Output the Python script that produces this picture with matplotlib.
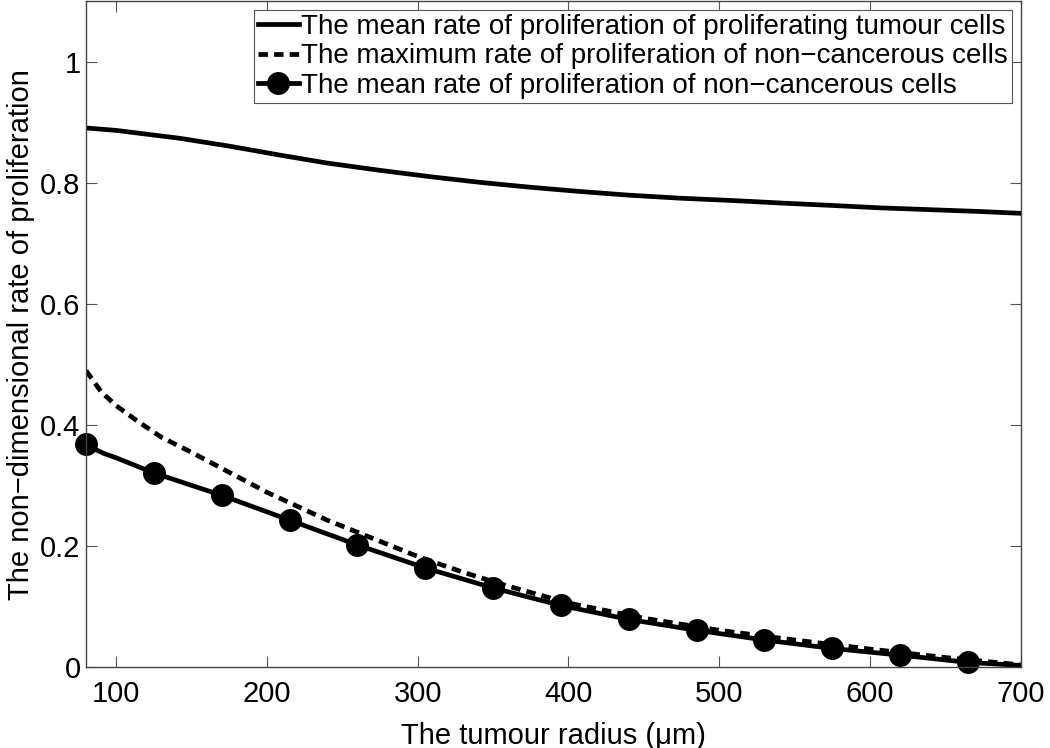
import numpy as np
import matplotlib.pyplot as plt
from matplotlib.lines import Line2D

plt.rcParams['font.family'] = ['Liberation Sans', 'DejaVu Sans']

# mean rate, proliferating tumour cells
tumour_r = [80, 100, 142, 175, 209, 240, 275, 310, 342, 375, 408, 440, 474, 510, 541, 575, 607, 640, 673, 700]
tumour_mean = [0.891, 0.887, 0.874, 0.861, 0.846, 0.833, 0.821, 0.810, 0.801, 0.793, 0.786, 0.780,
               0.775, 0.771, 0.767, 0.763, 0.759, 0.756, 0.753, 0.750]

# maximum rate, non-cancerous cells
max_r = [80, 90, 100, 115, 130, 150, 175, 200, 240, 270, 300, 330, 360, 400, 450, 500, 550, 600, 650, 700]
max_rate = [0.490, 0.455, 0.432, 0.405, 0.380, 0.355, 0.322, 0.289, 0.243, 0.213, 0.183, 0.157, 0.134,
            0.106, 0.081, 0.061, 0.045, 0.030, 0.016, 0.004]

# mean rate, non-cancerous cells (curve)
mean_r = [80, 86, 92, 100, 110, 125, 170, 215, 260, 305, 350, 395, 440, 485, 530, 575, 620, 665, 700]
mean_rate = [0.369, 0.360, 0.353, 0.346, 0.336, 0.321, 0.284, 0.243, 0.202, 0.164, 0.131, 0.102, 0.079,
             0.061, 0.045, 0.031, 0.020, 0.008, 0.003]

# marker positions on that curve
marker_r = [80, 125, 170, 215, 260, 305, 350, 395, 440, 485, 530, 575, 620, 665]
marker_rate = [0.369, 0.321, 0.284, 0.243, 0.202, 0.164, 0.131, 0.102, 0.079, 0.061, 0.045, 0.031, 0.020, 0.008]

labels = ["The mean rate of proliferation of proliferating tumour cells",
          "The maximum rate of proliferation of non\u2212cancerous cells",
          "The mean rate of proliferation of non\u2212cancerous cells"]

fig = plt.figure(figsize=(10.5, 7.48), dpi=100)
ax = fig.add_axes([0.082, 0.108, 0.890, 0.890])

lw = 3.4
dash = (0, (2.0, 1.3))
ax.plot(tumour_r, tumour_mean, color='black', lw=lw)
ax.plot(max_r, max_rate, color='black', lw=lw, linestyle=dash)
ax.plot(mean_r, mean_rate, color='black', lw=lw)
ax.plot(marker_r, marker_rate, 'o', color='black', markersize=15.5, clip_on=False)

ax.set_xlim(80, 700)
ax.set_ylim(0, 1.1)
ax.set_xticks([100, 200, 300, 400, 500, 600, 700])
ax.set_yticks([0, 0.2, 0.4, 0.6, 0.8, 1])
ax.set_yticklabels(['0', '0.2', '0.4', '0.6', '0.8', '1'])
ax.tick_params(direction='in', length=8, width=0.8, color='#555555', labelsize=21,
               top=True, right=True)
ax.tick_params(axis='x', pad=9)
ax.tick_params(axis='y', pad=4)
for s in ax.spines.values():
    s.set_color('#444444')
    s.set_linewidth(1.0)

ax.set_xlabel("The tumour radius (\u03bcm)", fontsize=21, labelpad=10)
ax.set_ylabel("The non\u2212dimensional rate of proliferation", fontsize=21, labelpad=4)

handles = [Line2D([], [], color='black', lw=lw),
           Line2D([], [], color='black', lw=lw, linestyle=dash),
           Line2D([], [], color='black', lw=lw, marker='o', markersize=15.5)]
leg = ax.legend(handles, labels, loc='upper right', fontsize=20, fancybox=False,
                frameon=True, handlelength=1.45, handletextpad=0.1, borderpad=0.15,
                labelspacing=0.12, borderaxespad=0.3)
leg.get_frame().set_edgecolor('#555555')
leg.get_frame().set_linewidth(0.8)
leg.get_frame().set_alpha(1)

fig.savefig('out.png', dpi=100)
